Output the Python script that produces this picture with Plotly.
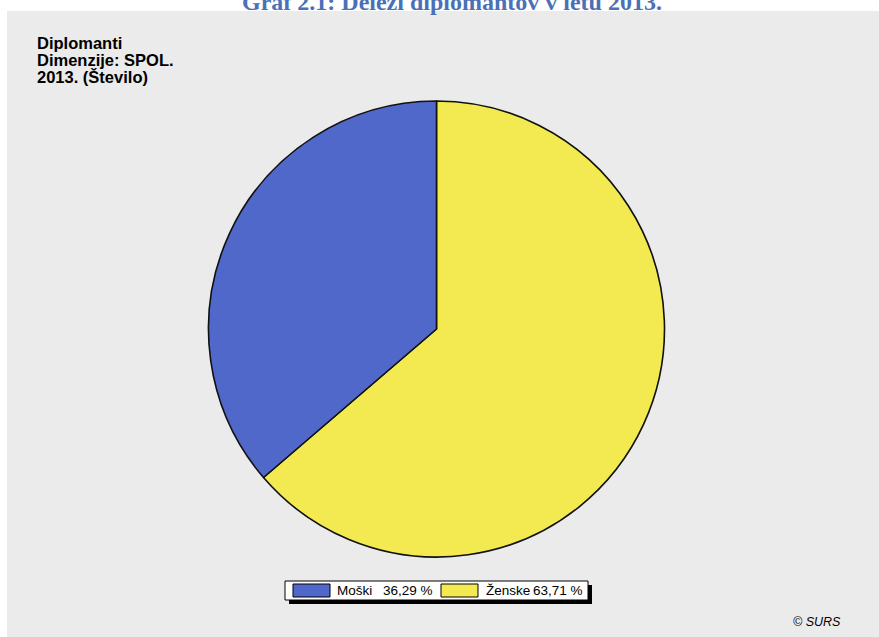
import plotly.graph_objects as go

# Data
labels = ["Moški", "Ženske"]
values = [36.29, 63.71]
colors = ["#5068ca", "#f2ea50"]

title_text = "Graf 2.1: Deleži diplomantov v letu 2013."
header_lines = ["Diplomanti", "Dimenzije: SPOL.", "2013. (Število)"]
source_text = "© SURS"

W, H = 879, 637


def px(x):
    return x / W


def py(y):
    return 1 - y / H


fig = go.Figure()

# Ženske runs clockwise from 12 o'clock, Moški fills the rest on the left
fig.add_trace(go.Pie(
    labels=labels[::-1],
    values=values[::-1],
    sort=False,
    direction="clockwise",
    marker=dict(colors=colors[::-1], line=dict(color="#111111", width=1.6)),
    textinfo="none",
    hoverinfo="skip",
    showlegend=False,
    domain=dict(x=[px(436.5 - 228), px(436.5 + 228)], y=[py(557), py(101)]),
))

shapes = []
annotations = []

# grey chart panel
shapes.append(dict(type="rect", xref="paper", yref="paper",
                   x0=px(7), x1=px(879), y0=py(637), y1=py(11),
                   fillcolor="#ebebeb", line=dict(width=0), layer="below"))

# legend box with drop shadow
lx0, lx1, ly0, ly1 = 285, 588, 581, 600
shapes.append(dict(type="rect", xref="paper", yref="paper",
                   x0=px(lx0 + 4), x1=px(lx1 + 4), y0=py(ly1 + 4), y1=py(ly0 + 4),
                   fillcolor="#000000", line=dict(width=0)))
shapes.append(dict(type="rect", xref="paper", yref="paper",
                   x0=px(lx0), x1=px(lx1), y0=py(ly1), y1=py(ly0),
                   fillcolor="#ffffff", line=dict(color="#000000", width=1)))

swatch_x = [293, 441]
name_x = [335, 484]
value_right = [435, 585]
for i, lab in enumerate(labels):
    shapes.append(dict(type="rect", xref="paper", yref="paper",
                       x0=px(swatch_x[i]), x1=px(swatch_x[i] + 37),
                       y0=py(597), y1=py(584),
                       fillcolor=colors[i], line=dict(color="#000000", width=1)))
    annotations.append(dict(x=px(name_x[i]), y=py(590.5), xref="paper", yref="paper",
                            text=lab, showarrow=False, xanchor="left", yanchor="middle",
                            font=dict(family="Liberation Sans, Arial", size=13.5, color="#000000")))
    val = f"{values[i]:.2f}".replace(".", ",") + " %"
    annotations.append(dict(x=px(value_right[i]), y=py(590.5), xref="paper", yref="paper",
                            text=val, showarrow=False, xanchor="right", yanchor="middle",
                            font=dict(family="Liberation Sans, Arial", size=13.5, color="#000000")))

# header text block
for i, line in enumerate(header_lines):
    annotations.append(dict(x=px(35), y=py(43 + 17 * i), xref="paper", yref="paper",
                            text=f"<b>{line}</b>", showarrow=False,
                            xanchor="left", yanchor="middle",
                            font=dict(family="Liberation Sans, Arial", size=16.5, color="#000000")))

# title (partly above the page)
annotations.append(dict(x=px(452), y=py(2), xref="paper", yref="paper",
                        text=f"<b>{title_text}</b>", showarrow=False,
                        xanchor="center", yanchor="middle",
                        font=dict(family="Liberation Serif, Times New Roman", size=24, color="#4a70b6")))

# source note
annotations.append(dict(x=px(843), y=py(622), xref="paper", yref="paper",
                        text=f"<i>{source_text}</i>", showarrow=False,
                        xanchor="right", yanchor="middle",
                        font=dict(family="Liberation Sans, Arial", size=12.5, color="#000000")))

fig.update_layout(
    width=W, height=H,
    margin=dict(l=0, r=0, t=0, b=0),
    paper_bgcolor="#ffffff",
    plot_bgcolor="#ffffff",
    shapes=shapes,
    annotations=annotations,
    showlegend=False,
)

fig.write_html("out.html")
